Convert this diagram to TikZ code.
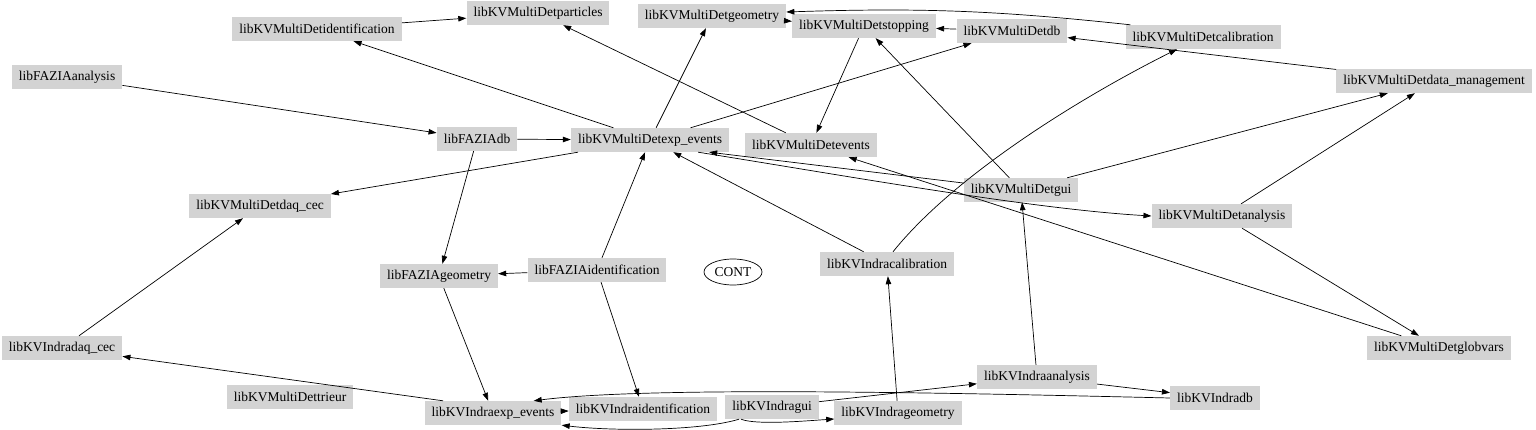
\documentclass[tikz,border=0pt]{standalone}
\usepackage{fontspec}
\setmainfont{Liberation Serif}
\usetikzlibrary{arrows.meta,shapes.geometric}
\definecolor{libgray}{RGB}{211,211,211}
\begin{document}
\begin{tikzpicture}[x=1pt,y=-1pt,
lib/.style={%
fill=libgray,
minimum height=24pt,
inner xsep=7pt,
inner ysep=0pt,
font=\fontsize{13.5}{16}\selectfont,
},
dep/.style={%
-{Triangle[length=8pt,width=5.5pt]},
line width=0.7pt,
},
cont/.style={%
ellipse,
draw,
line width=0.7pt,
minimum width=58pt,
minimum height=26pt,
inner sep=0pt,
font=\fontsize{13.5}{16}\selectfont,
},
]
\useasboundingbox (0,0) rectangle (1536,430);
%% MultiDet libraries
\node[lib](mdident)at(317,29){libKVMultiDetidentification};
\node[lib](mdpart)at(538,13){libKVMultiDetparticles};
\node[lib](mdgeom)at(712,16){libKVMultiDetgeometry};
\node[lib](mdstop)at(864,26){libKVMultiDetstopping};
\node[lib](mddb)at(1012,31){libKVMultiDetdb};
\node[lib](mdcalib)at(1203,37){libKVMultiDetcalibration};
\node[lib](mddata)at(1434,81){libKVMultiDetdata\_management};
\node[lib](mdexpev)at(650,140){libKVMultiDetexp\_events};
\node[lib](mdevents)at(811,145){libKVMultiDetevents};
\node[lib](mdgui)at(1021,190){libKVMultiDetgui};
\node[lib](mddaq)at(260,206){libKVMultiDetdaq\_cec};
\node[lib](mdana)at(1222,216){libKVMultiDetanalysis};
\node[lib](mdglob)at(1439,348){libKVMultiDetglobvars};
\node[lib](mdtrieur)at(290,397){libKVMultiDettrieur};
%% FAZIA libraries
\node[lib](fzana)at(67,77){libFAZIAanalysis};
\node[lib](fzdb)at(477,139){libFAZIAdb};
\node[lib](fzgeom)at(439,276){libFAZIAgeometry};
\node[lib](fzident)at(597,270){libFAZIAidentification};
%% INDRA libraries
\node[lib](incalib)at(887,264){libKVIndracalibration};
\node[lib](indaq)at(62,348){libKVIndradaq\_cec};
\node[lib](inana)at(1037,377){libKVIndraanalysis};
\node[lib](indb)at(1215,398){libKVIndradb};
\node[lib](inexpev)at(493,413){libKVIndraexp\_events};
\node[lib](inident)at(643,409){libKVIndraidentification};
\node[lib](ingui)at(772,407){libKVIndragui};
\node[lib](ingeom)at(898,413){libKVIndrageometry};
\node[cont](cont)at(733,272){CONT};
%% Dependencies
\draw[dep] (mdident)--(mdpart);
\draw[dep] (mdexpev)--(mdident);
\draw[dep] (mdexpev)--(mdgeom);
\draw[dep] (mdexpev)--(mddb);
\draw[dep] (mdexpev)--(mddaq);
\draw[dep] ([xshift=-31pt]mdexpev.south east) .. controls +(150,24) and +(-120,-7) .. (mdana.west);
\draw[dep] (mdevents)--(mdpart);
\draw[dep] (mdstop)--(mdevents);
\draw[dep] (mdgeom)--(mdstop);
\draw[dep] (mddb)--(mdstop);
\draw[dep] ([xshift=5pt]mdcalib.north west) to[bend right=4] ([yshift=4pt]mdgeom.east);
\draw[dep] (mddata)--(mddb);
\draw[dep] (mdgui)--(mdstop);
\draw[dep] (mdgui)--(mddata);
\draw[dep] (mdgui)--([xshift=-20pt]mdexpev.south east);
\draw[dep] (mdana)--(mddata);
\draw[dep] (mdana)--(mdglob);
\draw[dep] (mdglob)--(mdevents);
\draw[dep] (fzana)--(fzdb);
\draw[dep] (fzdb)--(mdexpev);
\draw[dep] (fzdb)--(fzgeom);
\draw[dep] (fzident)--(mdexpev);
\draw[dep] (fzident)--(fzgeom);
\draw[dep] (fzident)--(inident);
\draw[dep] (fzgeom)--(inexpev);
\draw[dep] (indaq)--(mddaq);
\draw[dep] (incalib)--(mdexpev);
\draw[dep] ([xshift=6pt]incalib.north) .. controls +(60,-75) and +(-100,50) .. ([xshift=-26pt]mdcalib.south);
\draw[dep] ([xshift=-50pt]inexpev.north)--(indaq);
\draw[dep] (inexpev)--(inident);
\draw[dep] ([xshift=14pt]ingui.south west) .. controls +(-40,12) and +(50,6) .. (inexpev.south east);
\draw[dep] ([xshift=16pt]ingui.south west) .. controls +(15,6) and +(-30,2) .. ([yshift=-6pt]ingeom.west);
\draw[dep] (indb.west) .. controls +(-250,-6) and +(110,-14) .. ([xshift=-28pt]inexpev.north east);
\draw[dep] (ingui)--(inana);
\draw[dep] (inana)--(indb);
\draw[dep] (inana)--(mdgui);
\draw[dep] (ingeom)--(incalib);
\end{tikzpicture}
\end{document}
